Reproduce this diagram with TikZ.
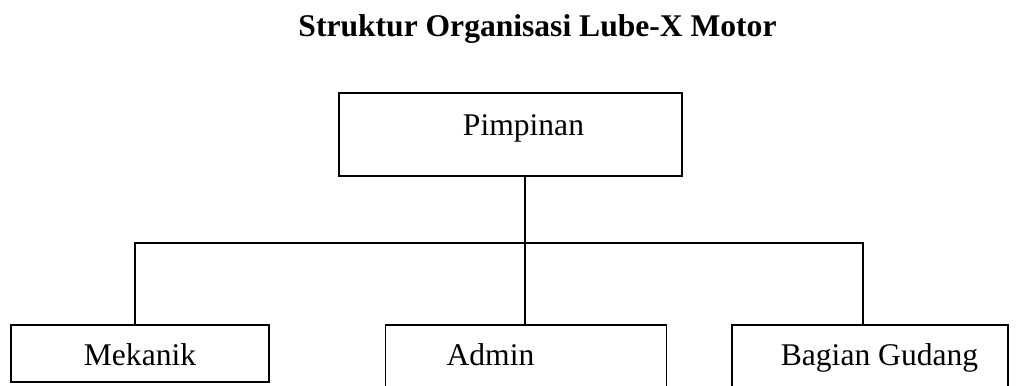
\documentclass[tikz,border=0pt]{standalone}
\usepackage{fontspec}
\setmainfont{Liberation Serif}
\usepackage{tikz}
\usetikzlibrary{positioning}

\begin{document}
\begin{tikzpicture}[x=0.38pt,y=-0.38pt]
\tikzset{unit box/.style={draw,line width=0.5pt,inner sep=0pt,outer sep=0pt,anchor=north west}}
\tikzset{unit text/.style={font=\fontsize{12}{14}\selectfont,inner sep=0pt,anchor=base}}
\tikzset{link/.style={line width=0.5pt}}
\useasboundingbox (0,0) rectangle (1017,385);
\clip (0,0) rectangle (1017,385);
\node[unit text,font=\fontsize{12}{14}\selectfont\bfseries] (judul) at (537.5,36)
        {Struktur Organisasi Lube-X Motor};
\node[unit box,minimum width=130.34pt,minimum height=31.54pt] (pim) at (339,93) {};
\node[unit box,minimum width=98.04pt,minimum height=21.66pt] (mek) at (11,325) {};
\node[unit box,minimum width=106.78pt,minimum height=30pt] (adm) at (385.5,325) {};
\node[unit box,minimum width=104.88pt,minimum height=30pt] (gud) at (732,325) {};
\node[unit text] (tpim) at (523.5,135) {Pimpinan};
\node[unit text] (tmek) at (140,365) {Mekanik};
\node[unit text] (tadm) at (490.5,365) {Admin};
\node[unit text] (tgud) at (879.5,365) {Bagian Gudang};
\coordinate (jn) at (525,243);
\coordinate (busL) at (135,243);
\coordinate (busR) at (863,243);
\draw[link] (jn |- pim.south) -- (jn |- adm.north);
\draw[link] (busL |- mek.north) -- (busL) -- (busR) -- (busR |- gud.north);
\end{tikzpicture}
\end{document}
